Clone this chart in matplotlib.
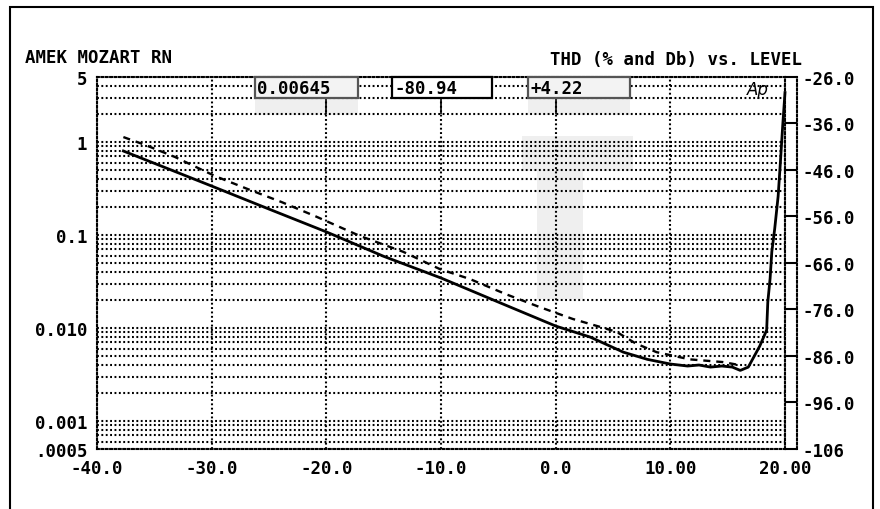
import matplotlib
matplotlib.use('Agg')
import matplotlib.pyplot as plt
import matplotlib.ticker as mticker
from matplotlib.patches import Rectangle

# level (dB) vs THD (%)
solid_level = [-37.7, -35, -30, -25, -20, -15, -10, -5, 0, 3, 5.9, 8, 10, 11.5, 12.5,
               13.5, 14.5, 15.4, 16.1, 16.8, 17.8, 18.4, 18.5, 18.7, 18.85, 19.1, 19.4,
               19.6, 19.8, 20.0]
solid_thd = [0.80, 0.59, 0.336, 0.19, 0.108, 0.059, 0.0345, 0.019, 0.0105, 0.0080, 0.0055,
             0.0046, 0.0041, 0.0039, 0.0040, 0.0038, 0.0039, 0.0038, 0.0035, 0.0038, 0.0064,
             0.0095, 0.019, 0.034, 0.066, 0.116, 0.26, 0.61, 1.5, 3.4]

dash_level = [-37.7, -35.8, -33.2, -29.7, -26.8, -23.9, -21, -17.1, -13.3, -10.1, -7.5,
              -4.3, -1.4, 1.5, 3.85, 5.3, 7.0, 8.8, 11.7, 14.6, 16.0]
dash_thd = [1.13, 0.93, 0.69, 0.43, 0.31, 0.226, 0.16, 0.098, 0.066, 0.043, 0.0337,
            0.023, 0.0168, 0.0125, 0.0103, 0.0091, 0.0068, 0.0055, 0.0046, 0.0043, 0.0040]

x_ticks = [-40, -30, -20, -10, 0, 10, 20]
x_labels = ['-40.0', '-30.0', '-20.0', '-10.0', '0.0', '10.00', '20.00']
y_ticks = [0.0005, 0.001, 0.01, 0.1, 1, 5]
y_labels = ['.0005', '0.001', '0.010', '0.1', '1', '5']
db_ticks = [-26, -36, -46, -56, -66, -76, -86, -96, -106]
db_labels = ['-26.0', '-36.0', '-46.0', '-56.0', '-66.0', '-76.0', '-86.0', '-96.0', '-106']

readouts = ['0.00645', '-80.94', '+4.22']
cursor_x = [-20, -10, 0]

W, H = 880, 510
mono = {'family': 'DejaVu Sans Mono', 'weight': 'bold', 'size': 12.5}
dots = (0, (0.9, 1.2))


def fx(px):
    return px / W


def fy(py):
    return 1 - py / H


fig = plt.figure(figsize=(8.8, 5.1), dpi=100)
ax = fig.add_axes([fx(97), fy(450), fx(785) - fx(97), fy(78) - fy(450)])
ax.set_facecolor('none')

ax.set_yscale('log')
ax.set_xlim(-40, 20)
ax.set_ylim(0.0005, 5)
ax.yaxis.set_major_locator(mticker.FixedLocator(y_ticks))
ax.yaxis.set_major_formatter(mticker.FixedFormatter(y_labels))
ax.yaxis.set_minor_locator(mticker.LogLocator(base=10, subs=range(2, 10)))
ax.yaxis.set_minor_formatter(mticker.NullFormatter())
ax.set_xticks(x_ticks)
ax.set_xticklabels(x_labels)

ax.grid(True, which='both', axis='y', color='black', linestyle=dots, linewidth=1.5)
ax.grid(True, which='major', axis='x', color='black', linestyle=dots, linewidth=1.5)
for s in ax.spines.values():
    s.set_linestyle(dots)
    s.set_linewidth(1.5)

ax.tick_params(which='both', length=0)
ax.tick_params(axis='y', pad=7)
ax.tick_params(axis='x', pad=7)
for lab in ax.get_xticklabels() + ax.get_yticklabels():
    lab.set_fontproperties(mono)

ax.plot(solid_level, solid_thd, color='black', lw=2.0, solid_joinstyle='round', clip_on=False, zorder=5)
ax.plot(dash_level, dash_thd, color='black', lw=1.7, linestyle=(0, (3, 2.5)), zorder=5)
ax.vlines(cursor_x, 2.0, 5, color='black', lw=1.2, zorder=4)

# right dB scale, offset bracket
ax2 = ax.twinx()
ax2.set_ylim(-106, -26)
ax2.set_yticks(db_ticks)
ax2.set_yticklabels(db_labels)
for k in ['left', 'top', 'bottom']:
    ax2.spines[k].set_visible(False)
ax2.spines['right'].set_position(('outward', 8.6))
ax2.spines['right'].set_linestyle(dots)
ax2.spines['right'].set_linewidth(1.5)
ax2.tick_params(axis='y', direction='in', length=8.6, width=1.5, pad=4)
for lab in ax2.get_yticklabels():
    lab.set_fontproperties(mono)

# grey highlight behind cursor readouts
for (l, t, r, b) in [(255, 100, 358, 116), (528, 100, 630, 116), (522, 137, 633, 172), (537, 172, 583, 300)]:
    fig.patches.append(Rectangle((fx(l), fy(b)), fx(r) - fx(l), fy(t) - fy(b), transform=fig.transFigure,
                                 facecolor='#efefef', edgecolor='none', zorder=-1))

# readout boxes
boxes = [(255, 358, '#555555', '#f3f3f3'), (392, 492, 'black', 'white'), (528, 630, '#555555', '#f3f3f3')]
for (l, r, ec, fc), txt in zip(boxes, readouts):
    fig.patches.append(Rectangle((fx(l), fy(99)), fx(r) - fx(l), fy(78) - fy(99), transform=fig.transFigure,
                                 facecolor=fc, edgecolor=ec, lw=1.6, zorder=6))
    fig.text(fx(l + 2), fy(89), txt, ha='left', va='center', fontdict=mono, zorder=7)

fig.text(fx(25), fy(58), 'AMEK MOZART RN', ha='left', va='center', fontdict=mono)
fig.text(fx(802), fy(60), 'THD (% and Db) vs. LEVEL', ha='right', va='center', fontdict=mono)
fig.text(fx(747), fy(90), 'Ap', ha='left', va='center', style='italic', fontsize=12, family='DejaVu Sans')

# outer frame
fig.patches.append(Rectangle((fx(10), fy(520)), fx(873) - fx(10), fy(8) - fy(520), transform=fig.transFigure,
                             facecolor='none', edgecolor='black', lw=1.5))

fig.savefig('out.png', dpi=100)
